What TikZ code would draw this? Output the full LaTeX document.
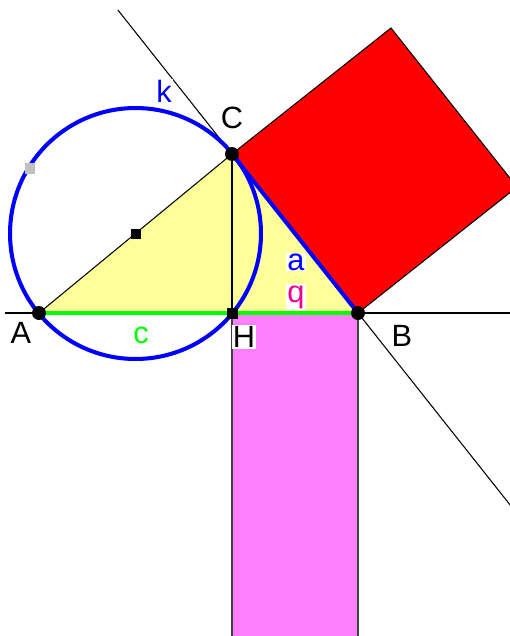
\documentclass[tikz,border=0pt]{standalone}
\usepackage{fontspec}
\setmainfont{Liberation Sans}
\usetikzlibrary{calc}
\definecolor{lightyellow}{RGB}{255,255,153}
\definecolor{lightpink}{RGB}{255,128,255}
\definecolor{pointgrey}{RGB}{192,192,192}
\tikzset{
  heavy/.style={line width=2.3pt},
  ptdot/.style={circle,fill=black,inner sep=0pt,minimum size=0.28cm},
  ptsquare/.style={rectangle,fill=#1,inner sep=0pt,minimum size=0.22cm},
  lbl/.style={font=\fontsize{17.5}{20}\selectfont,inner sep=0.6pt,fill=white}
}

\begin{document}
\begin{tikzpicture}[x=0.02cm,y=-0.02cm,line width=0.6pt]
    \clip (0,0) rectangle (510,636);
    \coordinate (A) at (39,313);
    \coordinate (B) at (358,313);
    \coordinate (C) at (232,154);
    \coordinate (H) at (232,313);
    \coordinate (M) at ($(A)!0.5!(C)$);
    \coordinate (P) at (30,168);
    \coordinate (left) at (5,313);
    \coordinate (right) at (515,313);

    \filldraw[fill=red,draw=black] (C) -- (B) -- ($(B)+(159,-126)$) -- ($(C)+(159,-126)$) -- cycle;
    \filldraw[fill=lightpink,draw=darkgray] (H) rectangle ($(B)+(0,340)$);
    \filldraw[fill=lightyellow,draw=black] (A) -- (B) -- (C) -- cycle;

    \draw (left) -- (right);
    \draw ($(C)!-0.906!(B)$) -- ($(C)!3.2!(B)$);
    \draw (C) -- (H);

    \draw[blue,heavy] (M) circle (2.51cm);
    \draw[green,heavy] (A) -- (B);
    \draw[blue,heavy] (C) -- (B);

    \node[ptdot] at (A) {};
    \node[ptdot] at (B) {};
    \node[ptdot] at (C) {};
    \node[ptsquare=black] at (H) {};
    \node[ptsquare=black,minimum size=0.2cm] at (M) {};
    \node[ptsquare=pointgrey] at (P) {};

    \node[lbl] (labelA) at (21,333) {A};
    \node[lbl] (labelB) at (402,336) {B};
    \node[lbl] (labelC) at (232,118) {C};
    \node[lbl] (labelH) at (244,337) {H};
    \node[lbl,text=blue] (labelk) at (164,91) {k};
    \node[lbl,text=blue] (labela) at (296,262) {a};
    \node[lbl,text=magenta] (labelq) at (296,297) {q};
    \node[lbl,text=green,fill=none] (labelc) at (141,335) {c};
  \end{tikzpicture}
\end{document}
